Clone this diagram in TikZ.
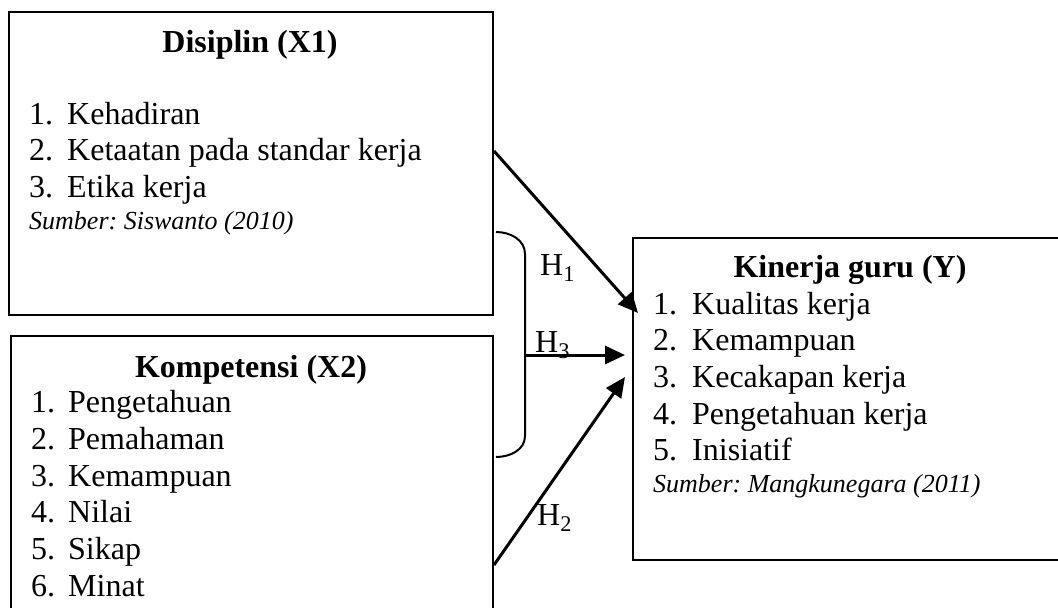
\documentclass[tikz,border=0pt]{standalone}
\usepackage{fontspec}
\setmainfont{Liberation Serif}
\usetikzlibrary{arrows.meta, calc}
\frenchspacing

\begin{document}
\begin{tikzpicture}[x=1pt, y=-1pt, >={Triangle[length=20pt,width=18pt]},
    box/.style={draw, line width=2pt, inner sep=0pt},
    txt/.style={anchor=base west, inner sep=0pt, font=\fontsize{32}{36.7}\selectfont},
    ttl/.style={anchor=base, inner sep=0pt, font=\fontsize{32}{36.7}\selectfont\bfseries},
    src/.style={anchor=base west, inner sep=0pt, font=\fontsize{26}{30}\selectfont\itshape},
    arr/.style={line width=3pt, ->}]
    \useasboundingbox (0,0) rectangle (1058,608);
    \clip (0,0) rectangle (1058,608);

    % Disiplin (X1)
    \node[box, anchor=north west, minimum width=484pt, minimum height=303pt] (dis) at (8,11) {};
    \node[ttl] (disT) at (250,52) {Disiplin (X1)};
    \foreach \t [count=\i] in {Kehadiran, Ketaatan pada standar kerja, Etika kerja} {
        \node[txt] (disN\i) at (29,{87.3+36.7*\i}) {\i.};
        \node[txt] (dis\i) at (67,{87.3+36.7*\i}) {\t};
    }
    \node[src] (disS) at (29,229) {Sumber: Siswanto (2010)};

    % Kompetensi (X2)
    \node[box, anchor=north west, minimum width=482pt, minimum height=300pt] (kom) at (10,335) {};
    \node[ttl] (komT) at (251,377) {Kompetensi (X2)};
    \foreach \t [count=\i] in {Pengetahuan, Pemahaman, Kemampuan, Nilai, Sikap, Minat} {
        \node[txt] (komN\i) at (31,{376+36.7*\i}) {\i.};
        \node[txt] (kom\i) at (68,{376+36.7*\i}) {\t};
    }

    % Kinerja guru (Y)
    \node[box, anchor=north west, minimum width=436pt, minimum height=322pt] (kin) at (632,237) {};
    \node[ttl] (kinT) at (850,277) {Kinerja guru (Y)};
    \foreach \t [count=\i] in {Kualitas kerja, Kemampuan, Kecakapan kerja, Pengetahuan kerja, Inisiatif} {
        \node[txt] (kinN\i) at (653,{277.3+36.7*\i}) {\i.};
        \node[txt] (kin\i) at (692,{277.3+36.7*\i}) {\t};
    }
    \node[src] (kinS) at (653,492) {Sumber: Mangkunegara (2011)};

    % Brace for X1 and X2
    \draw[line width=2pt] (496,232) to[out=0, in=90] (525,254) -- (525,436) to[out=-90, in=0] (496,457);
    \coordinate (brc) at (525,355);

    % Arrows
    \draw[arr] ($(dis.north east)+(0,140)$) -- ($(kin.north west)+(6,76)$);
    \draw[arr] (brc) -- ($(kin.north west)+(-7,118)$);
    \draw[arr] ($(kom.north east)+(0,230)$) -- ($(kin.north west)+(-7,140)$);

    % Hypotheses
    \node[txt] (h1) at (540,275) {H\textsubscript{1}};
    \node[txt] (h3) at (535,352) {H\textsubscript{3}};
    \node[txt] (h2) at (537,525) {H\textsubscript{2}};
\end{tikzpicture}
\end{document}
